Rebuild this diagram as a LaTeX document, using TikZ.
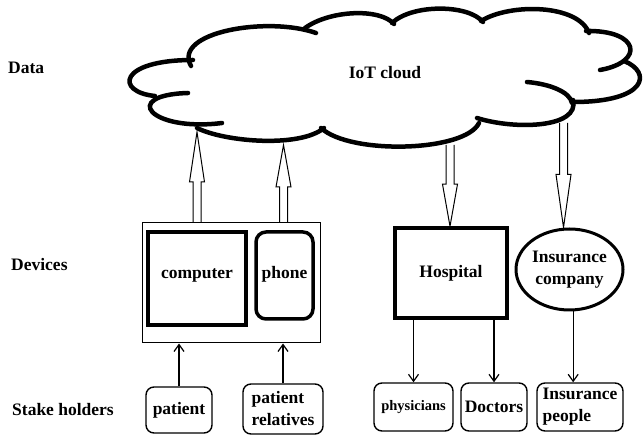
\documentclass[tikz,border=0pt]{standalone}
\usepackage{fontspec}
\setmainfont{Liberation Serif}
\usetikzlibrary{arrows.meta,calc,shapes.geometric}
\tikzset{
 lbl/.style={font=\bfseries\fontsize{17.5}{21}\selectfont, anchor=west, inner sep=0pt},
 txt/.style={font=\bfseries\fontsize{17.5}{22}\selectfont},
 thickbox/.style={draw, line width=3.5pt, inner sep=0pt, txt},
 thinbox/.style={draw, line width=1pt, inner sep=0pt},
 holder/.style={draw, line width=1.4pt, rounded corners=8pt, inner sep=0pt, txt, align=left},
 cloudline/.style={line width=4.5pt, line cap=round},
 thinarrow/.style={line width=1.2pt, -{Straight Barb[length=7pt,width=10pt]}},
 blockarr/.style={line width=1pt, line join=miter},
}
\newcommand\blockarrow[3][45pt]{%
 \draw[blockarr] let \p1=(#2), \p2=(#3), \n1={sign(\y2-\y1)} in
 ({\x1-4pt},\y1) -- ({\x1-4pt},{\y2-\n1*#1}) -- ({\x1-7.5pt},{\y2-\n1*#1}) -- (\x2,\y2)
 -- ({\x1+7.5pt},{\y2-\n1*#1}) -- ({\x1+4pt},{\y2-\n1*#1}) -- ({\x1+4pt},\y1);}
\begin{document}
\begin{tikzpicture}[x=1pt,y=-1pt]
\useasboundingbox (0,0) rectangle (643,435);
% cloud
\draw[cloudline] (191,66) .. controls (172,32) and (268,16) .. (316,33);
\draw[cloudline] (305,28) .. controls (330,10) and (380,8) .. (394,24);
\draw[cloudline] (392,23) .. controls (412,4) and (468,4) .. (483,22);
\draw[cloudline] (481,21) .. controls (510,3) and (578,4) .. (589,33);
\draw[cloudline] (586,31) .. controls (640,30) and (645,62) .. (600,70);
\draw[cloudline] (624,61) .. controls (652,72) and (648,102) .. (573,102);
\draw[cloudline] (527,82) .. controls (550,84) and (570,92) .. (572,103);
\draw[cloudline] (573,100) .. controls (580,128) and (515,130) .. (477,118);
\draw[cloudline] (479,123) .. controls (465,152) and (350,155) .. (321,128);
\draw[cloudline] (324,128) .. controls (300,148) and (225,142) .. (197,128);
\draw[cloudline] (188,93) .. controls (120,95) and (150,132) .. (222,123);
\draw[cloudline] (155,96) .. controls (115,92) and (118,60) .. (193,60);
\node[txt] (cloudtxt) at (385,73) {IoT cloud};
% labels
\node[lbl] (data) at (8,68) {Data};
\node[lbl] (devl) at (11,265) {Devices};
\node[lbl] (stake) at (12,410) {Stake holders};
% devices
\node[thinbox, minimum width=178pt, minimum height=120pt] (dev) at (231,283) {};
\node[thickbox, minimum width=98pt, minimum height=93pt] (comp) at (197,278.5) {\raisebox{10pt}{computer}};
\node[thickbox, rounded corners=10pt, minimum width=57pt, minimum height=87pt] (phone) at (284.5,275.5) {\raisebox{7pt}{phone}};
\node[thickbox, minimum width=112pt, minimum height=90pt] (hosp) at (451,273) {\raisebox{3pt}{Hospital}};
\node[ellipse, draw, line width=3pt, minimum width=107pt, minimum height=81pt, inner sep=0pt, txt, align=center] (ins) at (569.5,269.5) {Insurance\\company};
% stake holders
\node[holder, minimum width=66pt, minimum height=46pt] (pat) at (179,410) {patient};
\node[holder, minimum width=80pt, minimum height=50pt] (rel) at (283,409) {patient\\relatives};
\node[holder, font=\bfseries\fontsize{14.5}{18}\selectfont, minimum width=79pt, minimum height=48pt] (phys) at (413.5,407) {physicians};
\node[holder, minimum width=66pt, minimum height=48pt] (doc) at (494,407) {Doctors};
\node[holder, minimum width=86pt, minimum height=48pt] (ip) at (580,407) {Insurance\\people};
% thin arrows
\draw[thinarrow] (pat.north) -- (pat.north |- dev.south);
\draw[thinarrow] (rel.north) -- (rel.north |- dev.south);
\draw[thinarrow] (phys.north |- hosp.south) -- (phys.north);
\draw[thinarrow] (doc.north |- hosp.south) -- (doc.north);
\draw[thinarrow] (ins.-85) -- (ins.-85 |- ip.north);
% block arrows
\coordinate (c1) at (197,132);
\coordinate (c2) at (283.5,145);
\coordinate (c3) at (450,145);
\coordinate (c4) at (563.5,123);
\blockarrow[50pt]{dev.north -| c1}{c1}
\blockarrow[42pt]{dev.north -| c2}{c2}
\blockarrow[42pt]{c3}{c3 |- hosp.north}
\blockarrow[53pt]{c4}{c4 |- ins.north}
\end{tikzpicture}
\end{document}
